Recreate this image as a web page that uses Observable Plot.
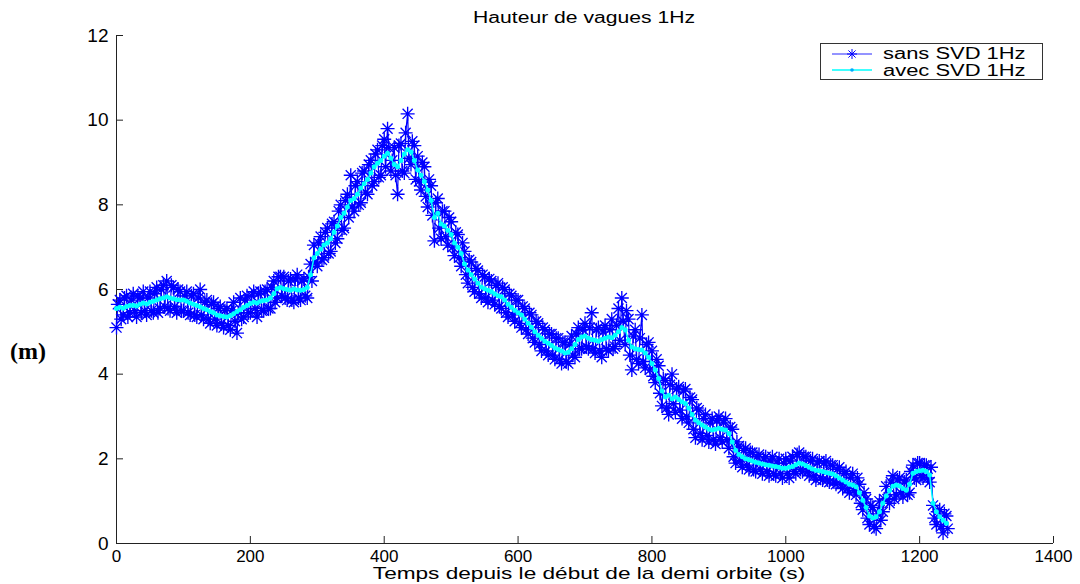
<!DOCTYPE html>
<html><head><meta charset="utf-8">
<script src="https://cdn.jsdelivr.net/npm/d3@7"></script>
<script src="https://cdn.jsdelivr.net/npm/@observablehq/plot@0.6"></script>
<style>
body{margin:0;background:#fff;}
#wrap{position:relative;width:1080px;height:584px;overflow:hidden;font-family:"Liberation Sans",Arial,sans-serif;color:#000;}
.txt{position:absolute;white-space:nowrap;line-height:1;}
#title{left:584px;top:10px;font-size:16px;transform:translateX(-50%) scaleX(1.32);}
#xlabel{left:589px;top:564.5px;font-size:17px;transform:translateX(-50%) scaleX(1.33);}
#ylabel{left:10px;top:339px;font-size:24px;font-weight:bold;font-family:"Liberation Serif","Times New Roman",serif;}
#legend{position:absolute;left:820px;top:43px;width:221px;height:35px;border:1px solid #333;background:#fff;}
#legend svg{position:absolute;left:0;top:0;}
.leg{position:absolute;left:62px;font-size:16px;line-height:1;white-space:nowrap;transform-origin:0 0;transform:scaleX(1.37);}
</style></head>
<body><div id="wrap">
<div id="chart"></div>
<div id="title" class="txt">Hauteur de vagues 1Hz</div>
<div id="xlabel" class="txt">Temps depuis le début de la demi orbite (s)</div>
<div id="ylabel" class="txt">(m)</div>
<div id="legend"></div>
</div>
<script>
// Sample grids of the 1 Hz record (read every 5 s, two interleaved readings)
const timesA = d3.range(0, 1245, 5);
const timesB = d3.range(2, 1245, 5);

// sans SVD 1Hz (noisy), readings at timesA
const sansA = [
5.10,5.75,5.40,5.85,5.45,5.90,5.35,5.80,5.95,5.40,
5.95,5.45,6.05,5.55,6.10,6.20,5.50,6.05,5.45,5.95,
5.50,5.95,5.40,5.90,5.35,6.00,5.30,5.75,5.20,5.70,
5.15,5.60,5.10,5.55,5.05,5.70,4.97,5.80,5.35,5.85,
5.45,5.95,5.35,5.95,5.50,6.00,5.55,6.20,5.80,6.30,
6.30,5.75,6.25,5.70,6.35,5.75,6.25,5.80,6.60,7.05,
6.55,7.25,6.75,7.45,6.90,7.60,7.20,8.00,7.45,8.25,
8.70,7.85,8.55,8.05,8.80,8.25,9.05,8.55,9.30,8.70,
9.55,9.80,8.80,9.35,8.25,9.45,8.75,10.15,8.95,9.40,
9.15,8.35,8.90,7.95,8.45,7.15,8.15,7.20,7.85,7.05,
7.60,6.80,7.30,6.55,6.90,6.15,6.65,5.95,6.45,5.80,
6.30,5.70,6.20,5.65,6.15,5.55,6.00,5.35,5.85,5.25,
5.75,5.10,5.55,4.95,5.40,4.75,5.20,4.55,5.05,4.45,
4.95,4.35,4.85,4.25,4.75,4.25,4.90,4.40,5.10,4.60,
5.20,4.60,5.45,4.50,5.10,4.40,5.15,4.55,5.30,4.65,
5.55,5.80,4.70,5.30,4.10,5.05,4.25,5.40,4.15,4.75,
4.55,3.80,4.20,3.25,3.85,3.05,4.00,3.10,3.70,2.95,
3.65,2.85,3.40,2.50,3.15,2.45,3.05,2.40,2.95,2.35,
3.00,2.40,2.95,2.25,2.70,1.90,2.30,1.80,2.25,1.75,
2.15,1.70,2.10,1.65,2.05,1.60,2.05,1.60,2.00,1.55,
2.00,1.55,2.05,1.65,2.15,1.70,2.05,1.60,2.00,1.50,
1.95,1.50,1.95,1.45,1.85,1.40,1.80,1.30,1.70,1.20,
1.65,1.15,1.40,0.80,1.05,0.45,0.85,0.35,1.00,0.75,
1.35,0.95,1.60,1.15,1.55,1.10,1.50,1.20,1.85,1.50,
1.90,1.55,1.85,1.45,0.90,0.45,0.80,0.25,0.65
];

// sans SVD 1Hz (noisy), readings at timesB
const sansB = [
5.65,5.30,5.80,5.35,5.75,5.50,5.85,5.45,5.50,5.80,
5.50,5.90,5.45,6.00,5.60,5.55,6.10,5.60,6.00,5.50,
5.85,5.45,5.85,5.40,5.80,5.40,5.70,5.30,5.65,5.30,
5.55,5.20,5.50,5.15,5.50,5.25,5.45,5.30,5.75,5.45,
5.85,5.55,5.90,5.50,5.95,5.55,6.05,5.70,6.30,5.85,
5.80,6.20,5.75,6.25,5.80,6.20,5.85,6.30,6.20,6.65,
7.10,6.70,7.35,6.85,7.55,7.10,7.85,7.40,8.10,7.70,
7.95,8.45,8.00,8.75,8.30,8.95,8.45,9.20,8.65,9.40,
8.90,9.35,9.05,8.70,9.40,8.80,9.70,9.10,9.50,8.60,
8.55,9.00,8.20,8.60,7.75,8.05,7.45,7.85,7.25,7.70,
7.00,7.35,6.75,7.10,6.35,6.70,6.05,6.50,5.90,6.35,
5.80,6.25,5.75,6.10,5.60,6.05,5.45,5.90,5.40,5.75,
5.20,5.60,5.05,5.45,4.85,5.25,4.70,5.10,4.55,4.95,
4.45,4.85,4.35,4.75,4.30,4.70,4.45,4.95,4.60,5.05,
4.65,5.10,4.60,5.05,4.55,5.00,4.60,5.05,4.60,5.15,
4.80,5.25,5.50,4.45,4.90,4.35,4.85,4.30,4.70,4.10,
3.95,4.35,3.55,3.90,3.20,3.75,3.30,3.65,3.15,3.60,
3.00,3.45,2.70,3.20,2.60,2.95,2.55,2.85,2.45,2.90,
2.50,2.85,2.45,2.75,2.05,2.40,1.95,2.20,1.85,2.15,
1.75,2.05,1.75,2.00,1.70,1.95,1.65,1.90,1.65,1.90,
1.65,1.95,1.70,2.10,1.75,2.05,1.70,1.95,1.60,1.90,
1.55,1.90,1.50,1.85,1.45,1.75,1.40,1.65,1.30,1.55,
1.25,1.55,0.95,1.20,0.60,0.90,0.40,0.70,0.55,1.05,
1.05,1.45,1.05,1.50,1.20,1.45,1.15,1.70,1.55,1.90,
1.60,1.85,1.55,1.80,0.60,0.75,0.40,0.70,0.35
];

// avec SVD 1Hz (smoother), readings at timesA
const avecSVD = [
5.55,5.58,5.56,5.60,5.62,5.63,5.61,5.65,5.68,5.66,
5.70,5.72,5.75,5.78,5.80,5.83,5.80,5.78,5.76,5.75,
5.75,5.72,5.68,5.65,5.62,5.59,5.55,5.52,5.48,5.45,
5.40,5.38,5.36,5.35,5.38,5.43,5.48,5.52,5.58,5.62,
5.67,5.70,5.68,5.72,5.74,5.75,5.80,5.90,6.02,6.05,
6.02,6.00,5.98,6.01,5.99,5.98,6.00,6.05,6.35,6.75,
6.85,6.95,7.05,7.10,7.20,7.35,7.50,7.70,7.80,7.95,
8.10,8.15,8.25,8.40,8.50,8.60,8.75,8.90,8.98,9.05,
9.15,9.22,9.10,8.95,8.90,9.05,9.20,9.30,9.25,9.05,
8.82,8.70,8.55,8.35,8.10,7.70,7.80,7.55,7.50,7.40,
7.30,7.10,7.00,6.85,6.60,6.46,6.35,6.25,6.15,6.06,
6.02,5.98,5.95,5.90,5.85,5.83,5.75,5.65,5.58,5.51,
5.45,5.40,5.30,5.20,5.11,5.00,4.92,4.85,4.78,4.73,
4.68,4.62,4.58,4.55,4.50,4.52,4.60,4.70,4.82,4.88,
4.90,4.85,4.82,4.80,4.78,4.82,4.85,4.88,4.86,4.92,
5.00,5.10,5.05,4.80,4.64,4.60,4.58,4.57,4.50,4.40,
4.25,4.10,3.90,3.60,3.46,3.50,3.42,3.46,3.40,3.35,
3.31,3.20,3.05,2.92,2.85,2.80,2.75,2.70,2.68,2.70,
2.72,2.70,2.68,2.60,2.40,2.20,2.10,2.05,2.00,1.98,
1.95,1.92,1.90,1.88,1.86,1.85,1.83,1.82,1.80,1.78,
1.78,1.80,1.82,1.86,1.90,1.88,1.84,1.80,1.76,1.73,
1.72,1.70,1.68,1.66,1.64,1.60,1.55,1.50,1.45,1.40,
1.38,1.34,1.20,1.02,0.85,0.65,0.60,0.63,0.75,0.95,
1.12,1.25,1.35,1.38,1.36,1.30,1.26,1.40,1.66,1.70,
1.72,1.73,1.70,1.62,0.95,0.75,0.63,0.55,0.48
];

const xTicks = [0,200,400,600,800,1000,1200,1400];
const yTicks = [0,2,4,6,8,10,12];
const seriesNames = ["sans SVD 1Hz","avec SVD 1Hz"];
const seriesColors = ["#0000ff","#00ffff"];

const sans = timesA.map((t,i)=>({t, v:sansA[i]}))
  .concat(timesB.map((t,i)=>({t, v:sansB[i]})))
  .sort((a,b)=>a.t-b.t);
const avec = timesA.map((t,i)=>({t, v:avecSVD[i]}));

// MATLAB-like 8-branch asterisk
const asterisk8 = {draw(ctx, size){
  const r = Math.sqrt(size/Math.PI), d = r*0.72;
  ctx.moveTo(-r,0); ctx.lineTo(r,0);
  ctx.moveTo(0,-r); ctx.lineTo(0,r);
  ctx.moveTo(-d,-d); ctx.lineTo(d,d);
  ctx.moveTo(-d,d); ctx.lineTo(d,-d);
}};

const chart = Plot.plot({
  width:1080, height:584,
  marginLeft:116, marginRight:27, marginTop:35, marginBottom:41,
  style:{fontFamily:"Liberation Sans, Arial, sans-serif", fontSize:"17px", color:"#000", background:"#fff"},
  x:{domain:[0,1400]},
  y:{domain:[0,12]},
  marks:[
    Plot.axisX(xTicks,{tickSize:0, tickPadding:6, label:null, tickFormat:d=>String(d), fontSize:17}),
    Plot.axisY(yTicks,{tickSize:0, tickPadding:8, label:null, tickFormat:d=>String(d), fontSize:19}),
    Plot.tickX(xTicks,{x:d=>d, stroke:"#222", insetTop:501}),
    Plot.tickY(yTicks,{y:d=>d, stroke:"#222", insetRight:930}),
    Plot.ruleX([0],{stroke:"#222"}),
    Plot.ruleY([0],{stroke:"#222"}),
    Plot.line(sans,{x:"t", y:"v", stroke:seriesColors[0], strokeWidth:1.2}),
    Plot.dot(sans,{x:"t", y:"v", symbol:asterisk8, r:7, stroke:seriesColors[0], fill:"none", strokeWidth:1.35}),
    Plot.line(avec,{x:"t", y:"v", stroke:seriesColors[1], strokeWidth:1.5}),
    Plot.dot(avec,{x:"t", y:"v", r:2.5, fill:seriesColors[1], stroke:"none"})
  ]
});
document.getElementById("chart").appendChild(chart);

// Legend
const leg = document.getElementById("legend");
const ns = "http://www.w3.org/2000/svg";
const svg = document.createElementNS(ns,"svg");
svg.setAttribute("width","221"); svg.setAttribute("height","35");
const rowsY = [10, 26];
seriesNames.forEach((name,i)=>{
  const y = rowsY[i];
  const ln = document.createElementNS(ns,"line");
  ln.setAttribute("x1",11); ln.setAttribute("x2",51); ln.setAttribute("y1",y); ln.setAttribute("y2",y);
  ln.setAttribute("stroke", i===0 ? "#6f6fff" : seriesColors[1]); ln.setAttribute("stroke-width",1.5);
  svg.appendChild(ln);
  if(i===0){
    const p = document.createElementNS(ns,"path");
    const r=5, d=r*0.72, cx=31;
    p.setAttribute("d",`M${cx-r},${y}H${cx+r}M${cx},${y-r}V${y+r}M${cx-d},${y-d}L${cx+d},${y+d}M${cx-d},${y+d}L${cx+d},${y-d}`);
    p.setAttribute("stroke","#0000ff"); p.setAttribute("fill","none");
    svg.appendChild(p);
  } else {
    const c = document.createElementNS(ns,"circle");
    c.setAttribute("cx",31); c.setAttribute("cy",y); c.setAttribute("r",1.8); c.setAttribute("fill","#00aaff");
    svg.appendChild(c);
  }
  const s = document.createElement("div");
  s.className="leg"; s.textContent=name; s.style.top=(i===0?2:19)+"px";
  leg.appendChild(s);
});
leg.appendChild(svg);
</script>
</body></html>
